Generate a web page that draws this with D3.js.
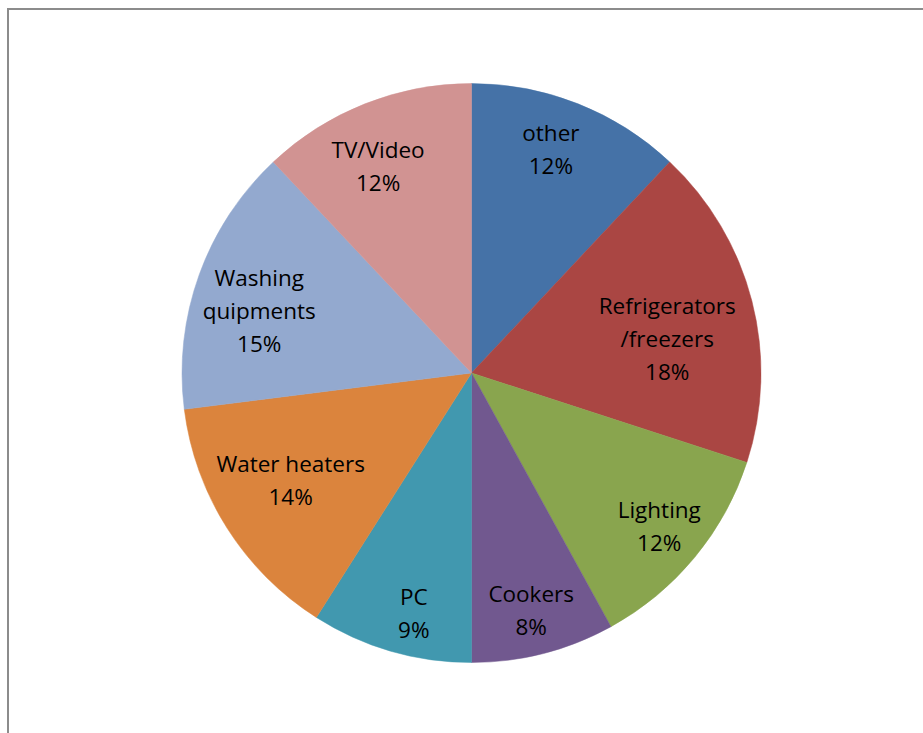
<!DOCTYPE html>
<html>
<head>
<meta charset="utf-8">
<script src="https://cdn.jsdelivr.net/npm/d3@7"></script>
<style>
  html, body { margin: 0; padding: 0; background: #fff; }
  svg { display: block; }
</style>
</head>
<body>
<svg id="chart" width="923" height="733"></svg>
<script>
// Household electricity use by appliance (share of total)
const categories = ["other", "Refrigerators\n/freezers", "Lighting", "Cookers", "PC",
                    "Water heaters", "Washing\nquipments", "TV/Video"];
const shares = [12, 18, 12, 8, 9, 14, 15, 12];
const colors = ["#4572A7", "#AA4643", "#89A54E", "#71588F", "#4198AF",
                "#DB843D", "#93A9CF", "#D19392"];

// Label nudges (px) from the mid-angle anchor, for best-fit placement
const labelNudge = [[-6, -8], [-29, 24], [9, 6], [2, 13], [7, 18], [15, -17], [6, 16], [-8, 9]];

const svg = d3.select("#chart");
const W = 923, H = 733;
const cx = 471.5, cy = 373, R = 289.5;

// Chart frame
svg.append("rect")
  .attr("x", 8).attr("y", 9)
  .attr("width", W + 20).attr("height", H + 20)
  .attr("fill", "none")
  .attr("stroke", "#8c8c8c")
  .attr("stroke-width", 2);

const data = categories.map((c, i) => ({ label: c, value: shares[i], color: colors[i], nudge: labelNudge[i] }));

const pie = d3.pie().sort(null).value(d => d.value);
const arcs = pie(data);

const arc = d3.arc().innerRadius(0).outerRadius(R);
const labelArc = d3.arc().innerRadius(232).outerRadius(232);

const g = svg.append("g").attr("transform", `translate(${cx},${cy})`);

g.selectAll("path.slice")
  .data(arcs)
  .join("path")
  .attr("class", "slice")
  .attr("d", arc)
  .attr("fill", d => d.data.color)
  .attr("stroke", d => d.data.color)
  .attr("stroke-width", 0.5);

const lineH = 33;
g.selectAll("text.lbl")
  .data(arcs)
  .join("text")
  .attr("class", "lbl")
  .attr("text-anchor", "middle")
  .attr("font-family", "'Open Sans', Lato, sans-serif")
  .attr("font-size", 22.5)
  .attr("fill", "#000")
  .each(function (d) {
    const [x, y] = labelArc.centroid(d);
    const px = x + d.data.nudge[0], py = y + d.data.nudge[1];
    const lines = d.data.label.split("\n").concat([d3.format(".0%")(d.data.value / 100)]);
    const t = d3.select(this);
    const top = py - (lines.length - 1) * lineH / 2;
    lines.forEach((ln, k) => {
      t.append("tspan")
        .attr("x", px)
        .attr("y", top + k * lineH)
        .attr("dy", "0.36em")
        .text(ln);
    });
  });
</script>
</body>
</html>
